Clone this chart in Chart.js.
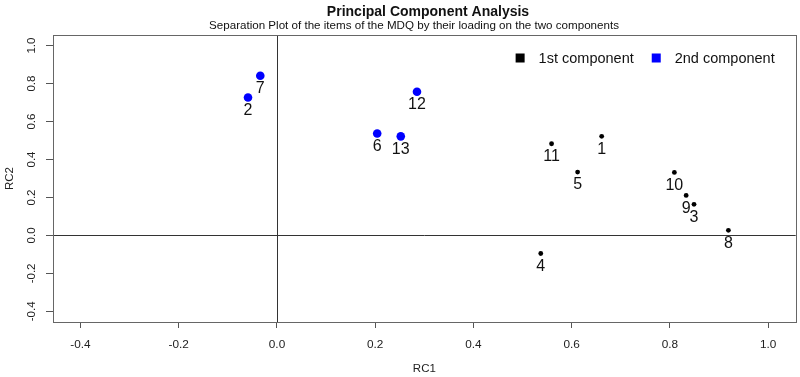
<!DOCTYPE html>
<html>
<head>
<meta charset="utf-8">
<script src="https://cdn.jsdelivr.net/npm/chart.js@4.4.1/dist/chart.umd.min.js"></script>
<style>
  html, body { margin: 0; padding: 0; background: #fff; }
  #wrap { width: 800px; height: 377px; }
</style>
</head>
<body>
<div id="wrap"><canvas id="pcaChart"></canvas></div>
<script>
// Item loadings (RC1 = x, RC2 = y)
const comp1Items = ['1', '3', '4', '5', '8', '9', '10', '11'];
const comp1RC1 = [0.661, 0.849, 0.537, 0.612, 0.919, 0.833, 0.809, 0.559];
const comp1RC2 = [0.522, 0.164, -0.095, 0.334, 0.027, 0.211, 0.332, 0.483];

const comp2Items = ['2', '6', '7', '12', '13'];
const comp2RC1 = [-0.059, 0.204, -0.034, 0.285, 0.252];
const comp2RC2 = [0.727, 0.537, 0.841, 0.757, 0.522];

const axisTicks = [-0.4, -0.2, 0.0, 0.2, 0.4, 0.6, 0.8, 1.0];
const seriesNames = ['1st component', '2nd component'];
const seriesColors = ['#000000', '#0000ff'];
const mainTitle = 'Principal Component Analysis';
const subTitle = 'Separation Plot of the items of the MDQ by their loading on the two components';

const FONT = "'Liberation Sans', Arial, Helvetica, sans-serif";

function toPoints(xs, ys) {
  return xs.map((v, i) => ({ x: v, y: ys[i] }));
}

const pcaDecor = {
  id: 'pcaDecor',
  beforeDatasetsDraw(chart) {
    const { ctx, chartArea: a, scales: { x, y } } = chart;
    ctx.save();
    ctx.lineWidth = 1;
    // reference lines through the origin
    ctx.strokeStyle = '#333';
    const x0 = Math.round(x.getPixelForValue(0)) + 0.5;
    const y0 = Math.round(y.getPixelForValue(0)) + 0.5;
    ctx.beginPath();
    ctx.moveTo(x0, a.top);
    ctx.lineTo(x0, a.bottom);
    ctx.moveTo(a.left, y0);
    ctx.lineTo(a.right, y0);
    ctx.stroke();
    // plot box
    ctx.strokeStyle = '#666';
    ctx.strokeRect(Math.round(a.left) + 0.5, Math.round(a.top) + 0.5,
      Math.round(a.right - a.left), Math.round(a.bottom - a.top));
    ctx.restore();
  },
  afterDatasetsDraw(chart) {
    const { ctx, chartArea: a } = chart;
    ctx.save();

    // item numbers under each point
    ctx.font = '16px ' + FONT;
    ctx.fillStyle = '#111';
    ctx.textAlign = 'center';
    ctx.textBaseline = 'middle';
    chart.data.datasets.forEach((ds, i) => {
      chart.getDatasetMeta(i).data.forEach((pt, j) => {
        ctx.fillText(ds.itemLabels[j], pt.x, pt.y + 13);
      });
    });

    // titles
    ctx.textBaseline = 'alphabetic';
    ctx.font = 'bold 14px ' + FONT;
    ctx.fillText(mainTitle, 428, 16);
    ctx.font = '11.6px ' + FONT;
    ctx.fillText(subTitle, 414, 29);

    // legend, right aligned inside the plot box
    ctx.font = '14.5px ' + FONT;
    ctx.textAlign = 'left';
    let right = a.right - 21;
    for (let i = chart.data.datasets.length - 1; i >= 0; i--) {
      const ds = chart.data.datasets[i];
      const w = ctx.measureText(ds.label).width;
      const tx = right - w;
      ctx.fillStyle = '#111';
      ctx.fillText(ds.label, tx, 63);
      ctx.fillStyle = ds.backgroundColor;
      ctx.fillRect(tx - 23, 53.5, 9, 9);
      right = tx - 23 - 18;
    }
    ctx.restore();
  }
};

new Chart(document.getElementById('pcaChart'), {
  type: 'scatter',
  data: {
    datasets: [
      {
        label: seriesNames[0],
        data: toPoints(comp1RC1, comp1RC2),
        itemLabels: comp1Items,
        backgroundColor: seriesColors[0],
        borderWidth: 0,
        pointRadius: 2.4
      },
      {
        label: seriesNames[1],
        data: toPoints(comp2RC1, comp2RC2),
        itemLabels: comp2Items,
        backgroundColor: seriesColors[1],
        borderWidth: 0,
        pointRadius: 4.3
      }
    ]
  },
  options: {
    responsive: true,
    maintainAspectRatio: false,
    animation: false,
    events: [],
    layout: { padding: { top: 35, right: 2, left: 0, bottom: 0 } },
    plugins: {
      legend: { display: false },
      tooltip: { enabled: false },
      title: { display: false }
    },
    scales: {
      x: {
        type: 'linear',
        min: -0.456,
        max: 1.056,
        afterBuildTicks: s => { s.ticks = axisTicks.map(v => ({ value: v })); },
        afterFit: s => { s.height = 55; },
        grid: { drawOnChartArea: false, drawTicks: true, tickLength: 6, color: '#555' },
        border: { display: false },
        ticks: {
          padding: 9.5,
          color: '#222',
          font: { family: FONT, size: 11.8 },
          maxRotation: 0,
          autoSkip: false,
          callback: v => v.toFixed(1)
        },
        title: {
          display: true,
          text: 'RC1',
          color: '#222',
          font: { family: FONT, size: 11.5 },
          padding: { top: 0, bottom: 1 }
        }
      },
      y: {
        type: 'linear',
        min: -0.456,
        max: 1.056,
        afterBuildTicks: s => { s.ticks = axisTicks.map(v => ({ value: v })); },
        afterFit: s => { s.width = 53; },
        grid: { drawOnChartArea: false, drawTicks: true, tickLength: 7, color: '#555' },
        border: { display: false },
        ticks: {
          padding: 4,
          color: '#222',
          font: { family: FONT, size: 11.5 },
          minRotation: 90,
          maxRotation: 90,
          crossAlign: 'center',
          autoSkip: false,
          callback: v => v.toFixed(1)
        },
        title: {
          display: true,
          text: 'RC2',
          color: '#222',
          font: { family: FONT, size: 11.5 },
          padding: { top: 3, bottom: 0 }
        }
      }
    }
  },
  plugins: [pcaDecor]
});
</script>
</body>
</html>
